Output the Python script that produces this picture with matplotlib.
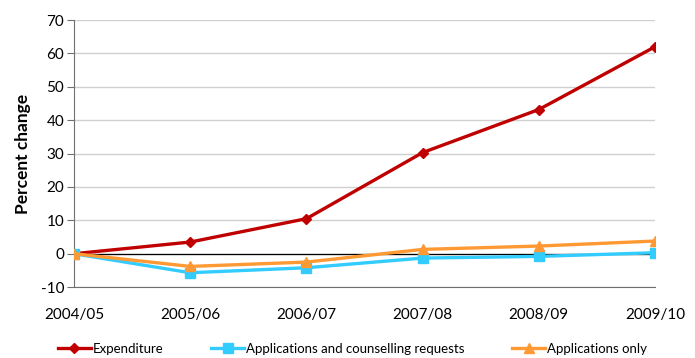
import matplotlib
matplotlib.use("Agg")
import matplotlib.pyplot as plt

years = ["2004/05", "2005/06", "2006/07", "2007/08", "2008/09", "2009/10"]
expenditure = [0, 3.5, 10.5, 30.3, 43.2, 62.0]
apps_counselling = [0, -5.7, -4.2, -1.3, -0.8, 0.3]
apps_only = [0, -3.8, -2.5, 1.3, 2.3, 3.8]

plt.rcParams['font.family'] = ['Lato', 'DejaVu Sans']
plt.rcParams['axes.unicode_minus'] = False

fig = plt.figure(figsize=(6.95, 3.58), dpi=100)
ax = fig.add_axes([0.1065, 0.198, 0.836, 0.746])

x = list(range(len(years)))
ax.axhline(0, color='black', linewidth=0.9, zorder=1)
ax.plot(x, expenditure, color='#C00000', linewidth=2.4, marker='D',
        markersize=5.5, label='Expenditure', zorder=3)
ax.plot(x, apps_counselling, color='#33CCFF', linewidth=2.4, marker='s',
        markersize=6.5, label='Applications and counselling requests', zorder=3)
ax.plot(x, apps_only, color='#FF9933', linewidth=2.4, marker='^',
        markersize=7, label='Applications only', zorder=4)

ax.set_xlim(0, 5)
ax.set_ylim(-10, 70)
ax.set_yticks(range(-10, 71, 10))
ax.set_xticks(x)
ax.set_xticklabels(years)
ax.grid(axis='y', color='#D0D0D0', linewidth=1)
ax.set_axisbelow(True)
for s in ['top', 'right']:
    ax.spines[s].set_visible(False)
ax.spines['left'].set_color('#707070')
ax.spines['bottom'].set_color('#707070')
ax.tick_params(axis='y', length=5, color='#707070', labelsize=11, pad=2)
ax.tick_params(axis='x', length=0, labelsize=11, pad=15)
ax.set_ylabel('Percent change', fontsize=12.5, fontweight='bold', labelpad=7)

fig.legend(loc='center left', bbox_to_anchor=(58 / 695, 1 - 349 / 358), ncol=3,
           frameon=False, fontsize=9.5, handlelength=2.5, handletextpad=0.15,
           columnspacing=3.6, borderaxespad=0, borderpad=0)

fig.savefig('out.png', dpi=100)
